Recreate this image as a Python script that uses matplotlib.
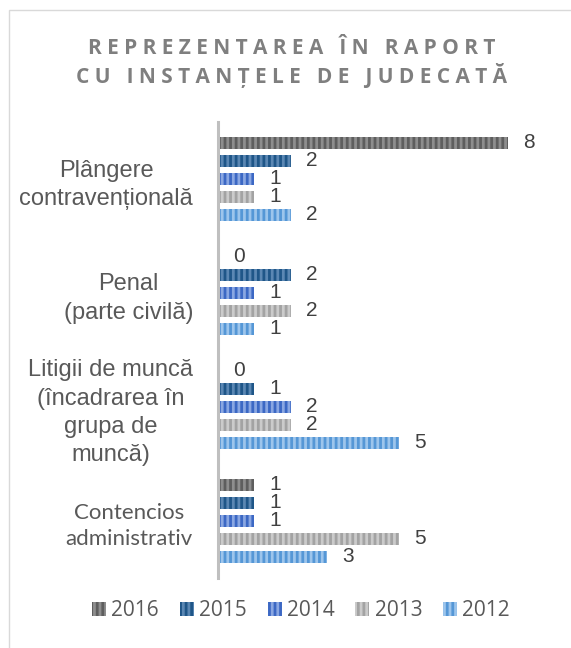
import matplotlib
matplotlib.use('Agg')
import matplotlib.pyplot as plt
import numpy as np
from matplotlib.patches import Rectangle, Patch

categories = ['Plângere\ncontravențională', 'Penal\n(parte civilă)',
              'Litigii de muncă\n(încadrarea în\ngrupa de\nmuncă)', 'Contencios\nadministrativ']
years = ['2016', '2015', '2014', '2013', '2012']
v2016 = [8, 0, 0, 1]
v2015 = [2, 2, 1, 1]
v2014 = [1, 1, 2, 1]
v2013 = [1, 2, 2, 5]
v2012 = [2, 1, 5, 3]
series = [v2016, v2015, v2014, v2013, v2012]

# (light fill, dark stripe)
colors = [('#8e8e8e', '#5e5e5e'),
          ('#5b87b3', '#1f5688'),
          ('#8aa7e2', '#3c68c4'),
          ('#cbcbcb', '#a3a3a3'),
          ('#9dc5ec', '#5597d6')]

title = 'REPREZENTAREA ÎN RAPORT\nCU INSTANȚELE DE JUDECATĂ'

plt.rcParams['hatch.linewidth'] = 2.0

W, H = 571, 648
fig = plt.figure(figsize=(W / 100, H / 100), dpi=100)

# light border of the chart area
fig.patches.append(Rectangle((9 / W, -0.1), 1.2, 1 - 10 / H + 0.1, transform=fig.transFigure,
                             fill=False, edgecolor='#d9d9d9', linewidth=1.0))

ax = fig.add_axes([218 / W, 1 - 578 / H, 326.25 / W, 456 / H])

step = 18 / 114
height = 12 / 114
y = np.arange(len(categories))
for i, vals in enumerate(series):
    pos = y + (i - 2) * step
    ax.barh(pos, vals, height=height, color=colors[i][0], edgecolor=colors[i][1],
            hatch='|||', linewidth=0)
    for p, v in zip(pos, vals):
        ax.text(v + 0.42, p, str(v), va='center', ha='left', fontsize=15,
                color='#404040', family='Liberation Sans')

ax.set_xlim(0, 9)
ax.set_ylim(3.5, -0.5)
ax.set_xticks([])
ax.set_yticks(y)
ax.set_yticklabels(categories, fontsize=17, color='#595959', family='Liberation Sans',
                   multialignment='center', linespacing=1.36)
ax.get_yticklabels()[3].set_family('Lato')
ax.get_yticklabels()[3].set_fontsize(16)
ax.tick_params(axis='y', length=0, pad=18)
for s in ['top', 'right', 'bottom']:
    ax.spines[s].set_visible(False)
ax.spines['left'].set_color('#bfbfbf')
ax.spines['left'].set_linewidth(2.2)

# spaced-out title
lines = []
for line in title.split('\n'):
    lines.append('   '.join(' '.join(w) for w in line.split(' ')))
fig.text(292 / W, 1 - 63 / H, '\n'.join(lines), ha='center', va='center', fontsize=15,
         fontweight='bold', color='#7f7f7f', family='Open Sans', linespacing=1.15)

handles = [Patch(facecolor=c[0], edgecolor=c[1], hatch='|||', linewidth=0) for c in colors]
leg = fig.legend(handles, years, loc='center', bbox_to_anchor=(301 / W, 1 - 611 / H), ncol=5,
                 frameon=False, handlelength=0.67, handleheight=0.63, handletextpad=0.25,
                 columnspacing=1.0, prop={'family': 'Open Sans', 'size': 15})
for t in leg.get_texts():
    t.set_color('#595959')

fig.savefig('out.png', dpi=100)
